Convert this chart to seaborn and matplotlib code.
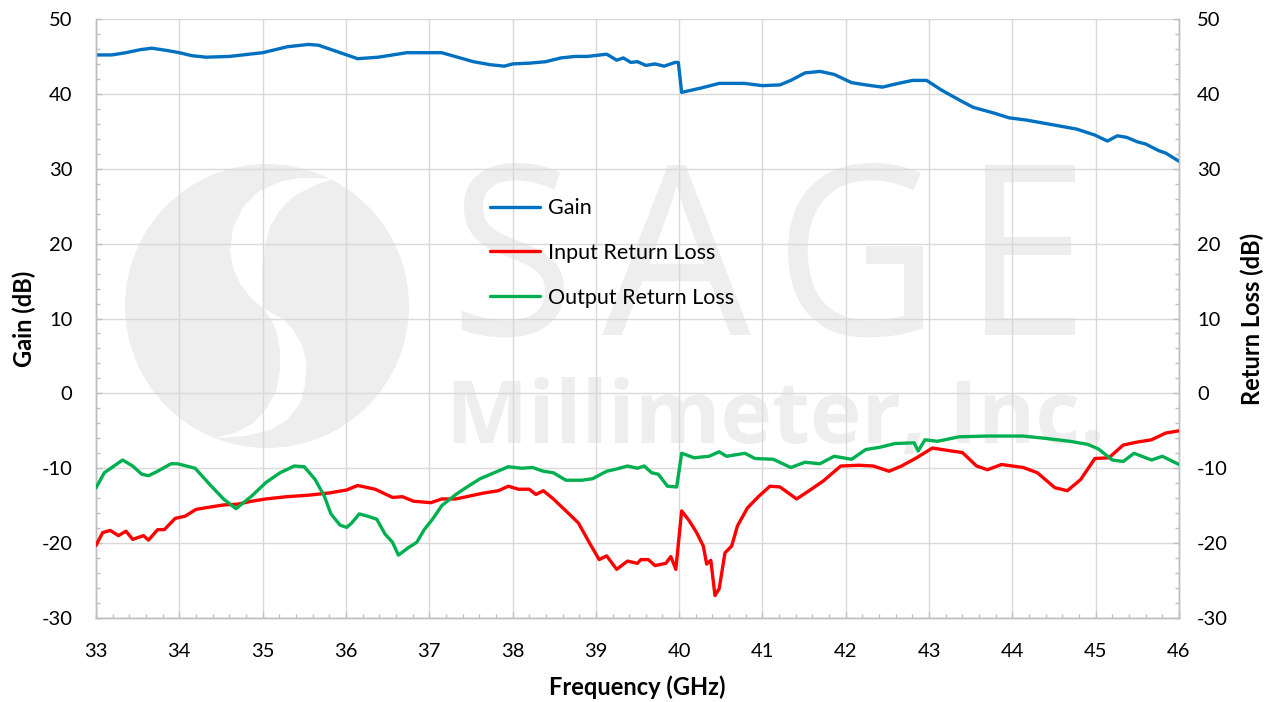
import numpy as np
import pandas as pd
import matplotlib
matplotlib.use("Agg")
import matplotlib.pyplot as plt
from matplotlib.ticker import MultipleLocator
from matplotlib.textpath import TextPath
from matplotlib.font_manager import FontProperties
from matplotlib.patches import PathPatch, Circle, Polygon
from matplotlib.transforms import Affine2D
import seaborn as sns

# ---------------- data ----------------
freq_gain = [33.0, 33.19, 33.36, 33.53, 33.67, 33.85, 34.0, 34.15, 34.32, 34.6, 35.0, 35.3,
             35.55, 35.67, 35.88, 36.14, 36.39, 36.73, 37.0, 37.15, 37.53, 37.73, 37.9, 38.0,
             38.2, 38.4, 38.58, 38.75, 38.9, 39.13, 39.25, 39.33, 39.42, 39.5, 39.6, 39.71,
             39.82, 39.95, 39.99, 40.03, 40.27, 40.48, 40.78, 41.0, 41.21, 41.34, 41.51, 41.69,
             41.86, 42.07, 42.24, 42.44, 42.59, 42.8, 42.97, 43.15, 43.36, 43.53, 43.79, 43.96,
             44.17, 44.47, 44.77, 44.99, 45.14, 45.26, 45.37, 45.5, 45.6, 45.76, 45.84, 46.0]
gain = [45.2, 45.2, 45.5, 45.9, 46.1, 45.8, 45.5, 45.1, 44.9, 45.0, 45.5, 46.3,
        46.6, 46.5, 45.7, 44.7, 44.9, 45.5, 45.5, 45.5, 44.3, 43.9, 43.7, 44.0,
        44.1, 44.3, 44.8, 45.0, 45.0, 45.3, 44.5, 44.8, 44.2, 44.3, 43.8, 44.0,
        43.7, 44.2, 44.2, 40.2, 40.8, 41.4, 41.4, 41.1, 41.2, 41.8, 42.8, 43.0,
        42.6, 41.5, 41.2, 40.9, 41.3, 41.8, 41.8, 40.5, 39.2, 38.2, 37.4, 36.8,
        36.5, 35.9, 35.3, 34.5, 33.7, 34.4, 34.2, 33.6, 33.3, 32.4, 32.1, 31.0]

freq_irl = [33.0, 33.08, 33.17, 33.27, 33.36, 33.44, 33.57, 33.63, 33.74, 33.82, 33.95, 34.07,
            34.2, 34.36, 34.53, 34.7, 34.87, 35.04, 35.29, 35.55, 35.8, 36.01, 36.14, 36.35,
            36.56, 36.68, 36.81, 37.02, 37.15, 37.32, 37.49, 37.66, 37.83, 37.95, 38.07, 38.2,
            38.28, 38.37, 38.49, 38.66, 38.79, 38.92, 39.04, 39.13, 39.25, 39.38, 39.5, 39.54,
            39.63, 39.71, 39.84, 39.9, 39.96, 40.03, 40.12, 40.21, 40.29, 40.33, 40.38, 40.43,
            40.48, 40.55, 40.63, 40.7, 40.82, 40.96, 41.09, 41.21, 41.41, 41.56, 41.73, 41.94,
            42.16, 42.33, 42.52, 42.67, 42.85, 43.04, 43.27, 43.4, 43.57, 43.7, 43.87, 44.13,
            44.3, 44.51, 44.66, 44.82, 44.99, 45.16, 45.33, 45.5, 45.67, 45.84, 46.0]
irl = [-20.3, -18.6, -18.3, -19.0, -18.4, -19.5, -19.0, -19.6, -18.2, -18.2, -16.7, -16.4,
       -15.5, -15.2, -14.9, -14.8, -14.4, -14.1, -13.8, -13.6, -13.3, -12.9, -12.3, -12.8,
       -13.9, -13.8, -14.4, -14.6, -14.1, -14.1, -13.7, -13.3, -13.0, -12.4, -12.8, -12.8,
       -13.5, -13.0, -14.1, -15.9, -17.3, -19.9, -22.2, -21.7, -23.5, -22.4, -22.7, -22.2,
       -22.2, -23.0, -22.7, -21.8, -23.5, -15.7, -17.0, -18.6, -20.4, -22.8, -22.3, -27.0,
       -26.1, -21.3, -20.4, -17.7, -15.3, -13.7, -12.4, -12.5, -14.1, -13.0, -11.7, -9.7,
       -9.6, -9.7, -10.4, -9.7, -8.6, -7.3, -7.7, -7.9, -9.7, -10.2, -9.5, -9.9,
       -10.6, -12.6, -13.0, -11.5, -8.7, -8.6, -6.9, -6.5, -6.2, -5.3, -5.0]

freq_orl = [33.0, 33.1, 33.19, 33.32, 33.44, 33.55, 33.63, 33.74, 33.9, 33.98, 34.19, 34.36,
            34.53, 34.68, 34.87, 35.04, 35.21, 35.38, 35.5, 35.63, 35.74, 35.82, 35.93, 36.01,
            36.07, 36.16, 36.26, 36.37, 36.47, 36.56, 36.63, 36.75, 36.85, 36.94, 37.04, 37.15,
            37.32, 37.44, 37.61, 37.78, 37.95, 38.11, 38.24, 38.37, 38.49, 38.64, 38.83, 38.96,
            39.13, 39.25, 39.38, 39.5, 39.58, 39.67, 39.75, 39.86, 39.97, 40.03, 40.18, 40.36,
            40.48, 40.57, 40.79, 40.91, 41.13, 41.34, 41.51, 41.69, 41.86, 42.07, 42.24, 42.41,
            42.59, 42.82, 42.87, 42.95, 43.1, 43.36, 43.7, 44.13, 44.39, 44.69, 44.9, 45.03,
            45.2, 45.33, 45.46, 45.67, 45.8, 46.0]
orl = [-12.6, -10.6, -9.9, -8.9, -9.7, -10.8, -11.0, -10.4, -9.4, -9.4, -10.0, -12.1,
       -14.1, -15.4, -13.7, -11.9, -10.6, -9.7, -9.8, -11.5, -13.7, -16.1, -17.6, -17.9,
       -17.3, -16.1, -16.4, -16.8, -18.8, -19.9, -21.6, -20.6, -19.9, -18.2, -16.8, -15.0,
       -13.5, -12.6, -11.4, -10.6, -9.8, -10.0, -9.9, -10.4, -10.6, -11.6, -11.6, -11.4,
       -10.4, -10.1, -9.7, -10.0, -9.7, -10.6, -10.8, -12.4, -12.5, -8.0, -8.6, -8.4,
       -7.8, -8.4, -8.0, -8.7, -8.8, -9.9, -9.2, -9.4, -8.4, -8.8, -7.5, -7.2,
       -6.7, -6.6, -7.7, -6.2, -6.4, -5.8, -5.7, -5.7, -6.0, -6.4, -6.8, -7.4,
       -8.9, -9.1, -8.0, -8.9, -8.4, -9.5]

x_ticks = list(range(33, 47))
y_ticks = list(range(-30, 51, 10))

# ---------------- style ----------------
sns.set_style("white")
plt.rcParams["font.family"] = ["Lato", "DejaVu Sans"]
plt.rcParams["axes.unicode_minus"] = False
plt.rcParams["text.color"] = "black"
plt.rcParams["axes.labelcolor"] = "black"

W, H = 1271, 702
fig = plt.figure(figsize=(W / 100, H / 100), dpi=100)
ax = fig.add_axes([96 / W, (H - 618) / H, (1179 - 96) / W, (618 - 19) / H])
ax2 = ax.twinx()

# pixel transform (origin top-left)
px = Affine2D().scale(1 / W, -1 / H).translate(0, 1) + fig.transFigure

WM = "#eeeeee"
# watermark logo
ax.add_patch(Circle((267, 306), 142, transform=px, facecolor=WM, edgecolor="none", zorder=0.2, clip_on=False))
s_pts = [(336.7, 178.3), (300, 178), (280, 181.7), (258, 192), (243.3, 206.7), (233, 228), (230, 250),
         (233, 268), (240, 283.3), (250, 297), (263.3, 308.3),
         (283, 319), (293.3, 330), (302, 345), (306.7, 363.3), (305, 385), (300, 403.3), (287, 420),
         (270, 430), (245, 436), (213.3, 438.3),
         (235, 433), (253.3, 423.3), (267, 408), (276.7, 390), (280, 370), (280, 350), (277, 333),
         (271.7, 320), (263.3, 308.3),
         (262, 290), (262.7, 266.7), (265, 245), (270, 226.7), (280, 210), (293.3, 196.7),
         (307, 189), (320, 183.3)]
ax.add_patch(Polygon(s_pts, closed=True, transform=px, facecolor="white", edgecolor="none",
                     zorder=0.25, clip_on=False))


def fit_text(s, x0, x1, ytop, ybot, weight="normal", family="Open Sans"):
    fp = FontProperties(family=family, weight=weight)
    tp = TextPath((0, 0), s, size=100, prop=fp)
    v = tp.vertices
    minx, maxx = v[:, 0].min(), v[:, 0].max()
    miny, maxy = 0.0, v[:, 1].max()
    sx = (x1 - x0) / (maxx - minx)
    sy = (ybot - ytop) / (maxy - miny)
    tr = Affine2D().translate(-minx, 0).scale(sx, -sy).translate(x0, ybot) + px
    ax.add_patch(PathPatch(tp, transform=tr, facecolor=WM, edgecolor="none", zorder=0.2, clip_on=False))


fit_text("S", 450, 564, 163, 335)
fit_text("A", 602, 751, 165, 335)
fit_text("G", 774, 923, 163, 335)
fit_text("E", 963, 1075, 165, 335)
fit_text("Millimeter, Inc.", 446, 1100, 377, 443, weight="bold")

# ---------------- data lines ----------------
df_gain = pd.DataFrame({"Frequency": freq_gain, "Value": gain})
df_irl = pd.DataFrame({"Frequency": freq_irl, "Value": irl})
df_orl = pd.DataFrame({"Frequency": freq_orl, "Value": orl})

lw = 2.4
sns.lineplot(data=df_gain, x="Frequency", y="Value", ax=ax, color="#0070c0", lw=lw,
             label="Gain", legend=False, zorder=3)
sns.lineplot(data=df_irl, x="Frequency", y="Value", ax=ax2, color="#ff0000", lw=lw,
             label="Input Return Loss", legend=False, zorder=3)
sns.lineplot(data=df_orl, x="Frequency", y="Value", ax=ax2, color="#00b050", lw=lw,
             label="Output Return Loss", legend=False, zorder=3)

# ---------------- axes ----------------
for a in (ax, ax2):
    a.set_xlim(33, 46)
    a.set_ylim(-30, 50)
    a.set_yticks(y_ticks)
    a.yaxis.set_minor_locator(MultipleLocator(2))
    for sp in a.spines.values():
        sp.set_color("#bfbfbf")
        sp.set_linewidth(1.0)
    a.spines["top"].set_visible(False)
    a.set_xlabel("")
    a.set_ylabel("")

ax.set_xticks(x_ticks)
ax.xaxis.set_minor_locator(MultipleLocator(0.2))
ax.set_axisbelow(True)
ax.grid(True, which="major", color="#d9d9d9", lw=1.0, zorder=0.5)
ax2.grid(False)

ax.tick_params(axis="both", which="major", direction="in", length=4.5, width=1,
               color="#bfbfbf", labelsize=14.5, labelcolor="black")
ax.tick_params(axis="both", which="minor", direction="in", length=3, width=1, color="#bfbfbf")
ax.tick_params(axis="y", which="both", left=True, right=False)
ax.tick_params(axis="y", which="major", pad=17)
ax.tick_params(axis="x", which="both", bottom=True, top=False)
ax.tick_params(axis="x", which="major", pad=18)
ax2.tick_params(axis="y", which="major", direction="in", length=4.5, width=1,
                color="#bfbfbf", labelsize=14.5, labelcolor="black", pad=13)
ax2.tick_params(axis="y", which="minor", direction="in", length=3, width=1, color="#bfbfbf")

ax.set_xlabel("Frequency (GHz)", fontsize=17, fontweight="bold", labelpad=11, color="black")
ax.set_ylabel("Gain (dB)", fontsize=17, fontweight="bold", labelpad=4, color="black")
ax2.set_ylabel("Return Loss (dB)", fontsize=17, fontweight="bold", labelpad=9, color="black")

# legend
h1, l1 = ax.get_legend_handles_labels()
h2, l2 = ax2.get_legend_handles_labels()
leg = ax2.legend(h1 + h2, l1 + l2, loc="center left",
                 bbox_to_anchor=((490 - 96) / (1179 - 96), (618 - 253) / (618 - 19)),
                 frameon=False, fontsize=15.5, handlelength=2.3, handletextpad=0.4,
                 labelspacing=1.15, borderpad=0, borderaxespad=0, labelcolor="black")
for line in leg.get_lines():
    line.set_linewidth(lw)

fig.savefig("out.png", dpi=100)
